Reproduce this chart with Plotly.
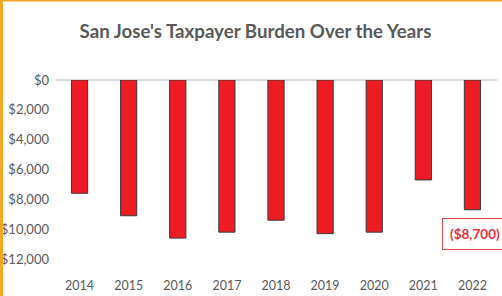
import plotly.graph_objects as go

years = ["2014", "2015", "2016", "2017", "2018", "2019", "2020", "2021", "2022"]
burden = [-7600, -9100, -10600, -10200, -9400, -10300, -10200, -6700, -8700]
tick_vals = [0, -2000, -4000, -6000, -8000, -10000, -12000]
tick_text = ["$0", "$2,000", "$4,000", "$6,000", "$8,000", "$10,000", "$12,000"]
callout_text = "($8,700)"

W, H = 502, 296
ML, MR, MT, MB = 55, 5, 80, 37
FONT = "Lato, Open Sans, sans-serif"

fig = go.Figure()
fig.add_trace(go.Bar(
    x=years, y=burden,
    marker=dict(color="#ED1C24", line=dict(color="#3a3a3a", width=1)),
    hoverinfo="skip",
))

fig.add_annotation(
    x=len(years) - 1, y=burden[-1], xref="x", yref="y",
    text="<b>" + callout_text + "</b>", showarrow=False,
    yanchor="top", yshift=-8, xshift=3,
    font=dict(family=FONT, size=13.5, color="#E8303A"),
    bordercolor="#F04848", borderwidth=1, borderpad=7, bgcolor="white",
)

# orange frame (left and top edges)
pw = W - ML - MR
ph = H - MT - MB
fig.add_shape(type="rect", xref="paper", yref="paper",
              x0=-ML / pw, x1=(-ML + 3) / pw, y0=-MB / ph, y1=1 + MT / ph,
              fillcolor="#F5A623", line=dict(width=0), layer="above")
fig.add_shape(type="rect", xref="paper", yref="paper",
              x0=-ML / pw, x1=1 + MR / pw, y0=1 + (MT - 1.5) / ph, y1=1 + MT / ph,
              fillcolor="#F5A623", line=dict(width=0), layer="above")

fig.update_layout(
    width=W, height=H,
    margin=dict(l=ML, r=MR, t=MT, b=MB, autoexpand=False),
    paper_bgcolor="white", plot_bgcolor="white",
    showlegend=False,
    title=dict(text="<b>San Jose's Taxpayer Burden Over the Years</b>",
               x=0.509, xanchor="center", xref="container",
               y=1 - 31 / H, yanchor="middle", yref="container",
               font=dict(family=FONT, size=18.7, color="#595959")),
    font=dict(family=FONT, size=13, color="#595959"),
    bargap=0.67,
)
fig.update_yaxes(range=[-12000, 0], tickvals=tick_vals, ticktext=tick_text,
                 showgrid=False, zeroline=True, zerolinecolor="#D9D9D9", zerolinewidth=2,
                 showline=False, ticks="", automargin=False, ticklabelstandoff=5,
                 tickfont=dict(size=13, color="#595959"))
fig.update_xaxes(type="category", range=[-0.5, len(years) - 0.5],
                 showgrid=False, showline=False, ticks="", automargin=False,
                 ticklabelstandoff=17,
                 tickfont=dict(size=12.5, color="#595959"))

fig.write_html("out.html", config={"displayModeBar": False},
               post_script="document.body.style.margin='0';")
